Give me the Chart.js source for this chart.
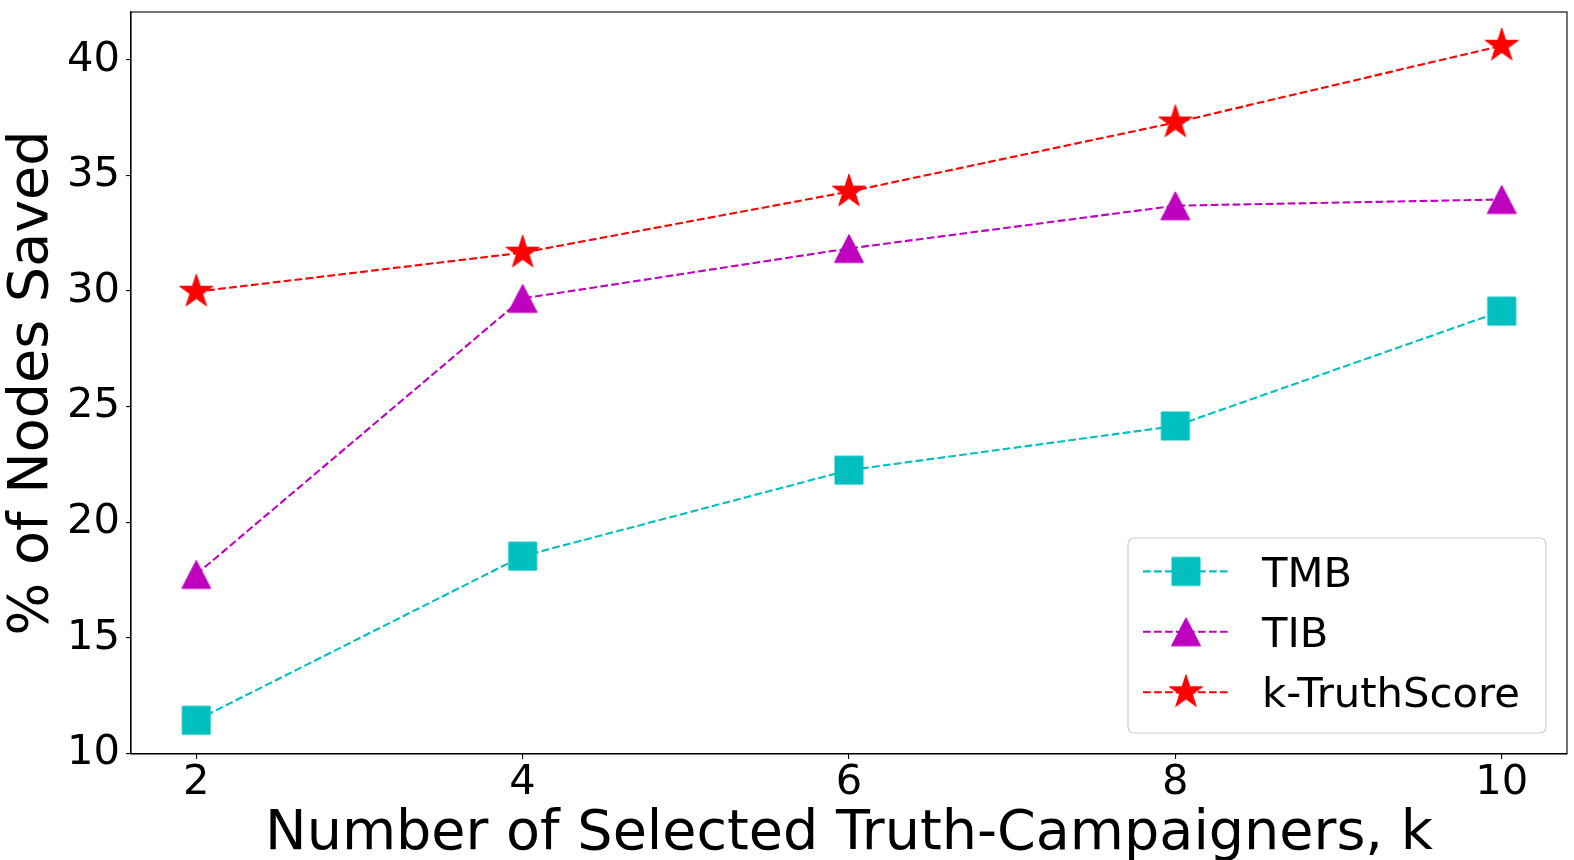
<!DOCTYPE html>
<html>
<head>
<meta charset="utf-8">
<script src="https://cdn.jsdelivr.net/npm/chart.js@4.4.1/dist/chart.umd.min.js"></script>
<style>
  html, body { margin: 0; padding: 0; background: #fff; }
  #chart { display: block; }
</style>
</head>
<body>
<canvas id="chart" width="1574" height="860"></canvas>
<script>
const kValues = [2, 4, 6, 8, 10];
const tmbSaved = [11.43, 18.53, 22.25, 24.16, 29.13];
const tibSaved = [17.74, 29.68, 31.84, 33.69, 33.96];
const truthScoreSaved = [29.97, 31.66, 34.30, 37.29, 40.61];
const seriesNames = ['TMB', 'TIB', 'k-TruthScore'];
const xTicks = [2, 4, 6, 8, 10];
const yTicks = [10, 15, 20, 25, 30, 35, 40];

const FONT = '"DejaVu Sans", "Liberation Sans", sans-serif';
const CYAN = '#00bfbf';
const MAGENTA = '#bf00bf';
const RED = '#ff0000';
const DASH = [7.7, 3.3];

// matplotlib-like marker glyphs
function marker(kind, color) {
  const c = document.createElement('canvas');
  c.width = 40;
  c.height = 40;
  const g = c.getContext('2d');
  const m = 20;
  g.fillStyle = color;
  g.strokeStyle = color;
  g.lineWidth = 1;
  g.beginPath();
  if (kind === 'square') {
    g.rect(m - 14, m - 14, 28, 28);
  } else if (kind === 'triangle') {
    g.moveTo(m, m - 14);
    g.lineTo(m + 14.5, m + 14);
    g.lineTo(m - 14.5, m + 14);
    g.closePath();
  } else {
    const R = 17.5, r = R * 0.381966;
    for (let i = 0; i < 10; i++) {
      const a = -Math.PI / 2 + i * Math.PI / 5;
      const rr = i % 2 ? r : R;
      const px = m + rr * Math.cos(a), py = m + rr * Math.sin(a);
      if (i === 0) g.moveTo(px, py); else g.lineTo(px, py);
    }
    g.closePath();
  }
  g.fill();
  g.stroke();
  return c;
}

const markers = [marker('square', CYAN), marker('triangle', MAGENTA), marker('star', RED)];
const colors = [CYAN, MAGENTA, RED];
const seriesValues = [tmbSaved, tibSaved, truthScoreSaved];

const datasets = seriesNames.map((name, i) => ({
  label: name,
  data: kValues.map((k, j) => ({ x: k, y: seriesValues[i][j] })),
  borderColor: colors[i],
  backgroundColor: colors[i],
  borderWidth: 2.1,
  borderDash: DASH,
  pointStyle: markers[i],
  pointRadius: 1,
  pointHoverRadius: 1,
  pointBorderWidth: 0,
  tension: 0,
  fill: false,
  order: 3 - i,
  clip: false
}));

const framePlugin = {
  id: 'frame',
  afterDraw(chart) {
    const { ctx, chartArea: a } = chart;
    ctx.save();
    ctx.strokeStyle = '#000';
    ctx.lineWidth = 1.1;
    ctx.strokeRect(a.left, a.top, a.right - a.left, a.bottom - a.top);
    ctx.restore();
  }
};

const legendPlugin = {
  id: 'mplLegend',
  afterDraw(chart) {
    const ctx = chart.ctx;
    const box = { x: 1128, y: 538, w: 418, h: 195, r: 6 };
    ctx.save();
    ctx.beginPath();
    ctx.roundRect(box.x, box.y, box.w, box.h, box.r);
    ctx.fillStyle = 'rgba(255,255,255,0.8)';
    ctx.fill();
    ctx.strokeStyle = '#d0d0d0';
    ctx.lineWidth = 1.2;
    ctx.stroke();
    ctx.font = '41.7px ' + FONT;
    ctx.textBaseline = 'alphabetic';
    ctx.textAlign = 'left';
    chart.data.datasets.forEach((ds, i) => {
      const y = 571.4 + i * 60.4;
      ctx.beginPath();
      ctx.setLineDash(DASH);
      ctx.strokeStyle = ds.borderColor;
      ctx.lineWidth = 2.1;
      ctx.moveTo(1143, y);
      ctx.lineTo(1229, y);
      ctx.stroke();
      ctx.setLineDash([]);
      const img = ds.pointStyle;
      ctx.drawImage(img, 1186 - img.width / 2, y - img.height / 2);
      ctx.fillStyle = '#000';
      ctx.fillText(ds.label, 1262, y + 15.2);
    });
    ctx.restore();
  }
};

new Chart(document.getElementById('chart'), {
  type: 'line',
  data: { datasets },
  options: {
    responsive: false,
    animation: false,
    events: [],
    layout: { autoPadding: false, padding: { top: 12, right: 7, left: 0, bottom: 0 } },
    plugins: {
      legend: { display: false },
      tooltip: { enabled: false }
    },
    scales: {
      x: {
        type: 'linear',
        min: 1.6,
        max: 10.4,
        afterBuildTicks: s => { s.ticks = xTicks.map(v => ({ value: v })); },
        afterFit: s => {
          s.height = 106;
          s.paddingLeft = 0;
          s.paddingRight = 0;
        },
        border: { color: '#000', width: 1.1 },
        grid: { drawOnChartArea: false, drawTicks: true, tickLength: 5, tickColor: '#000', lineWidth: 1.1 },
        ticks: {
          color: '#000',
          padding: 3,
          maxRotation: 0,
          font: { family: FONT, size: 41.7, lineHeight: 1 }
        },
        title: {
          display: true,
          text: 'Number of Selected Truth-Campaigners, k',
          color: '#000',
          font: { family: FONT, size: 55.6, lineHeight: 0.85 },
          padding: { top: 0, bottom: 2 }
        }
      },
      y: {
        type: 'linear',
        min: 9.97,
        max: 42.07,
        afterBuildTicks: s => { s.ticks = yTicks.map(v => ({ value: v })); },
        afterFit: s => {
          s.width = 131;
          s.paddingTop = 0;
          s.paddingBottom = 0;
        },
        border: { color: '#000', width: 1.1 },
        grid: { drawOnChartArea: false, drawTicks: true, tickLength: 5, tickColor: '#000', lineWidth: 1.1 },
        ticks: {
          color: '#000',
          padding: 6,
          font: { family: FONT, size: 41.7, lineHeight: 1 }
        },
        title: {
          display: true,
          text: '% of Nodes Saved',
          color: '#000',
          font: { family: FONT, size: 55.6, lineHeight: 1 },
          padding: { top: 5, bottom: 0 }
        }
      }
    }
  },
  plugins: [framePlugin, legendPlugin]
});
</script>
</body>
</html>
